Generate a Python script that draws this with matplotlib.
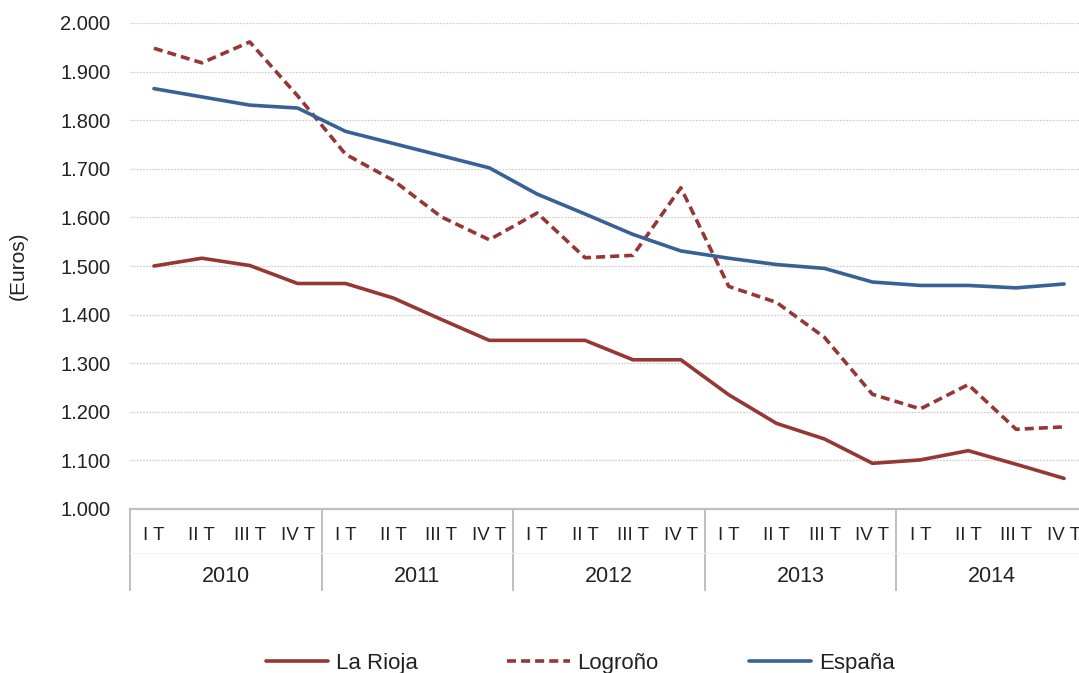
import matplotlib
matplotlib.use("Agg")
import matplotlib.pyplot as plt
import matplotlib.transforms as mtransforms
from matplotlib.ticker import FuncFormatter, MultipleLocator

plt.rcParams['font.family'] = ['Liberation Sans', 'DejaVu Sans']

years = ["2010", "2011", "2012", "2013", "2014"]
quarters = ["I T", "II T", "III T", "IV T"]

la_rioja = [1500, 1516, 1501, 1464, 1464, 1434, 1390, 1347,
            1347, 1347, 1307, 1307, 1235, 1176, 1144, 1094,
            1101, 1120, 1092, 1063]
logrono = [1948, 1918, 1961, 1850, 1730, 1676, 1601, 1554,
           1609, 1517, 1522, 1661, 1458, 1425, 1353, 1236,
           1206, 1256, 1164, 1169]
espana = [1865, 1848, 1831, 1825, 1777, 1752, 1727, 1702,
          1648, 1607, 1565, 1531, 1516, 1503, 1495, 1467,
          1460, 1460, 1455, 1463]

RED = "#953735"
BLUE = "#386296"
GRID = "#d0d0d0"
AXC = "#bfbfbf"
TXT = "#222222"

W, H = 1079, 673
fig = plt.figure(figsize=(W / 100, H / 100), dpi=100)
n = len(years) * len(quarters)
step = 47.9
left_px, bottom_px, top_px = 130, 509, 23
ax = fig.add_axes([left_px / W, 1 - bottom_px / H, n * step / W, (bottom_px - top_px) / H])

x = list(range(n))
l1, = ax.plot(x, la_rioja, color=RED, lw=2.6, solid_capstyle='round', label="La Rioja")
l2, = ax.plot(x, logrono, color=RED, lw=2.6, ls=(0, (2.5, 1.4)), label="Logroño")
l3, = ax.plot(x, espana, color=BLUE, lw=2.6, solid_capstyle='round', label="España")

ax.set_xlim(-0.5, n - 0.5)
ax.set_ylim(1000, 2000)
ax.yaxis.set_major_locator(MultipleLocator(100))
ax.yaxis.set_major_formatter(FuncFormatter(lambda v, p: f"{v/1000:.3f}"))
ax.grid(axis='y', color=GRID, ls=(0, (1.5, 1)), lw=0.9)
ax.set_axisbelow(True)
for s in ["top", "right", "left"]:
    ax.spines[s].set_visible(False)
ax.spines["bottom"].set_color(AXC)
ax.spines["bottom"].set_linewidth(1.6)
ax.tick_params(axis='y', length=0, pad=14, labelsize=14.5, labelcolor=TXT)
ax.set_xticks([])

trans = mtransforms.blended_transform_factory(ax.transData, ax.transAxes)
h_axes = bottom_px - top_px
for k in range(len(years) + 1):
    xs = -0.5 + 4 * k
    ax.plot([xs, xs], [0, -81 / h_axes], transform=trans, color=AXC, lw=1.4, clip_on=False)
ax.plot([-0.5, n - 0.5], [-44 / h_axes, -44 / h_axes], transform=trans, color="#f2f2f2", lw=0.8, clip_on=False)

for i in range(n):
    ax.text(i, -27 / h_axes, quarters[i % 4], transform=trans, ha='center', va='center',
            fontsize=13.5, color=TXT)
for j, yr in enumerate(years):
    ax.text(1.5 + 4 * j, -68 / h_axes, yr, transform=trans, ha='center', va='center',
            fontsize=15.5, color=TXT)

fig.text(18 / W, 1 - 266 / H, "(Euros)", rotation=90, ha='center', va='center',
         fontsize=15, color=TXT)

fig.legend(handles=[l1, l2, l3], loc='center', bbox_to_anchor=(580 / W, 1 - 663 / H),
           ncol=3, frameon=False, fontsize=16, handlelength=2.8, handletextpad=0.35,
           columnspacing=4.05, labelcolor=TXT)

fig.savefig("out.png", dpi=100)
